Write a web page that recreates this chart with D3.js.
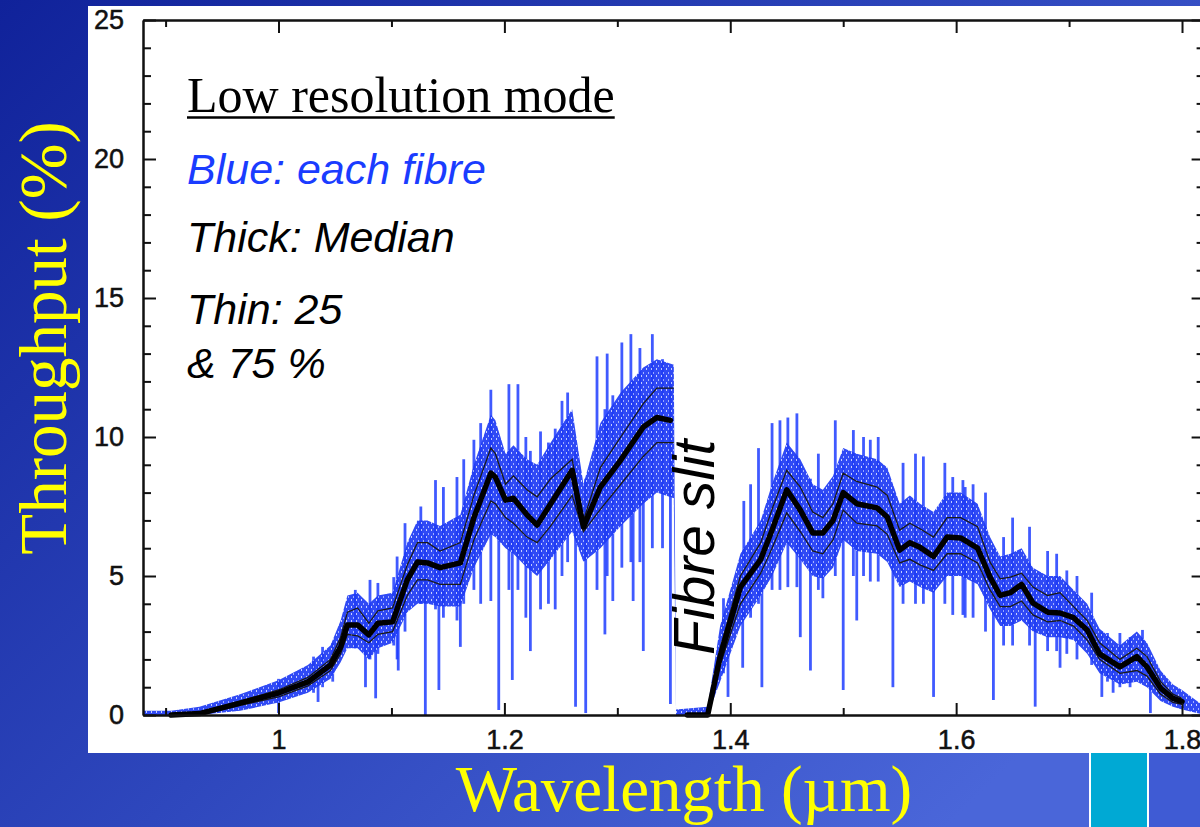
<!DOCTYPE html>
<html>
<head>
<meta charset="utf-8">
<title>Throughput - low resolution mode</title>
<script src="https://d3js.org/d3.v7.min.js"></script>
<style>
  body { margin: 0; background: #1d33aa; }
  svg { display: block; }
</style>
</head>
<body>
<div id="chart"></div>
<script>
// ---- data (wavelength in um, throughput in %) ----

// thick line: median of all fibres (null = break for the fibre slit)
const median = [
  [0.905, 0], [0.930, 0.05], [0.966, 0.43], [1.000, 0.79], [1.026, 1.19], [1.046, 1.8],
  [1.055, 2.45], [1.061, 3.24], [1.070, 3.24], [1.080, 2.88], [1.088, 3.3], [1.101, 3.35],
  [1.114, 4.86], [1.123, 5.5], [1.132, 5.47], [1.143, 5.3], [1.161, 5.47], [1.173, 7.1],
  [1.188, 8.7], [1.192, 8.56], [1.201, 7.73], [1.208, 7.8], [1.220, 7.2], [1.229, 6.83],
  [1.241, 7.6], [1.260, 8.8], [1.270, 6.76], [1.285, 8.2], [1.303, 9.17], [1.323, 10.36],
  [1.335, 10.7], [1.347, 10.6],
  [1.356, null],
  [1.362, 0], [1.380, 0], [1.391, 2.1], [1.409, 4.6], [1.427, 5.6], [1.437, 6.65],
  [1.450, 8.1], [1.462, 7.37], [1.473, 6.55], [1.482, 6.55], [1.491, 7.0], [1.500, 8.0],
  [1.512, 7.6], [1.530, 7.45], [1.539, 7.12], [1.550, 5.93], [1.559, 6.2], [1.568, 6.03],
  [1.580, 5.7], [1.592, 6.4], [1.604, 6.37], [1.619, 6.0], [1.630, 4.96], [1.639, 4.3],
  [1.648, 4.4], [1.658, 4.7], [1.668, 4.03], [1.681, 3.7], [1.692, 3.67], [1.704, 3.5],
  [1.716, 3.06], [1.727, 2.2], [1.745, 1.73], [1.760, 2.1], [1.769, 1.73], [1.781, 0.97],
  [1.792, 0.6], [1.800, 0.48]
];

// thin lines: 75 % and 25 % quantiles
const p75 = [
  [0.930, 0.1], [0.966, 0.5], [1.000, 0.9], [1.026, 1.35], [1.046, 2.0], [1.055, 2.8],
  [1.061, 3.7], [1.070, 3.85], [1.080, 3.3], [1.088, 3.75], [1.101, 3.85], [1.114, 5.4],
  [1.123, 6.2], [1.132, 6.2], [1.143, 5.9], [1.161, 6.2], [1.173, 7.9], [1.188, 9.6],
  [1.192, 9.4], [1.201, 8.3], [1.208, 8.6], [1.220, 8.1], [1.229, 7.85], [1.241, 8.5],
  [1.260, 9.2], [1.270, 7.0], [1.285, 8.9], [1.303, 10.0], [1.323, 11.2], [1.335, 11.76],
  [1.350, 11.76],
  [1.360, null],
  [1.385, 1.2], [1.391, 2.4], [1.409, 5.0], [1.427, 6.2], [1.437, 7.4], [1.450, 8.8],
  [1.462, 8.2], [1.473, 7.3], [1.482, 7.1], [1.491, 7.6], [1.500, 8.7], [1.512, 8.4],
  [1.530, 8.2], [1.539, 7.9], [1.550, 6.65], [1.559, 6.9], [1.568, 6.7], [1.580, 6.4],
  [1.592, 7.1], [1.604, 7.1], [1.619, 6.77], [1.630, 5.5], [1.639, 4.9], [1.648, 4.96],
  [1.658, 5.1], [1.668, 4.6], [1.681, 4.3], [1.692, 4.4], [1.704, 3.9], [1.716, 3.4],
  [1.727, 2.6], [1.745, 2.0], [1.760, 2.4], [1.769, 2.1], [1.781, 1.2], [1.792, 0.75],
  [1.800, 0.6]
];

const p25 = [
  [0.930, 0], [0.966, 0.35], [1.000, 0.65], [1.026, 1.05], [1.046, 1.6], [1.055, 2.2],
  [1.061, 2.9], [1.070, 2.85], [1.080, 2.6], [1.088, 2.9], [1.101, 3.0], [1.114, 4.3],
  [1.123, 4.86], [1.132, 4.86], [1.143, 4.7], [1.161, 4.7], [1.173, 6.3], [1.188, 7.7],
  [1.192, 7.6], [1.201, 7.1], [1.208, 6.9], [1.220, 6.4], [1.229, 6.2], [1.241, 6.8],
  [1.260, 7.9], [1.270, 6.6], [1.285, 7.4], [1.303, 8.3], [1.323, 9.3], [1.335, 9.8],
  [1.350, 9.8],
  [1.360, null],
  [1.385, 0.8], [1.391, 1.8], [1.409, 4.0], [1.427, 5.1], [1.437, 6.0], [1.450, 7.27],
  [1.462, 6.6], [1.473, 5.9], [1.482, 5.8], [1.491, 6.3], [1.500, 7.37], [1.512, 6.9],
  [1.530, 6.8], [1.539, 6.5], [1.550, 5.47], [1.559, 5.6], [1.568, 5.4], [1.580, 5.2],
  [1.592, 5.8], [1.604, 5.8], [1.619, 5.47], [1.630, 4.5], [1.639, 3.9], [1.648, 3.9],
  [1.658, 4.1], [1.668, 3.6], [1.681, 3.35], [1.692, 3.4], [1.704, 3.2], [1.716, 2.7],
  [1.727, 2.0], [1.745, 1.5], [1.760, 1.6], [1.769, 1.4], [1.781, 0.75], [1.792, 0.45],
  [1.800, 0.38]
];

// dense part of the blue cloud: [wavelength, low, high]
const fibreBand = [
  [0.880, 0, 0.15], [0.905, 0, 0.15], [0.930, 0, 0.3], [0.966, 0.15, 0.75], [1.000, 0.45, 1.25],
  [1.026, 0.8, 1.8], [1.046, 1.3, 2.5], [1.055, 1.9, 3.4], [1.061, 2.4, 4.3], [1.070, 2.4, 4.4],
  [1.080, 2.0, 4.0], [1.088, 2.4, 4.3], [1.101, 2.6, 4.4], [1.114, 3.7, 6.2], [1.123, 4.0, 7.0],
  [1.132, 4.0, 7.0], [1.143, 3.9, 6.8], [1.161, 3.9, 7.2], [1.173, 5.3, 9.0], [1.188, 6.5, 10.8],
  [1.192, 6.4, 10.6], [1.201, 6.0, 9.4], [1.208, 5.8, 9.7], [1.220, 5.3, 9.2], [1.229, 5.0, 9.0],
  [1.241, 5.6, 9.8], [1.260, 6.6, 11.0], [1.270, 5.5, 8.3], [1.285, 6.0, 10.5], [1.303, 6.8, 11.6],
  [1.323, 7.6, 12.5], [1.335, 8.0, 12.8], [1.350, 7.8, 12.6], [1.352, 0, 0.2], [1.380, 0, 0.3],
  [1.391, 1.2, 3.2], [1.409, 3.2, 5.8], [1.427, 4.3, 7.0], [1.437, 5.0, 8.3], [1.450, 6.2, 9.8],
  [1.462, 5.6, 9.2], [1.473, 5.0, 8.3], [1.482, 4.9, 8.1], [1.491, 5.3, 8.6], [1.500, 6.3, 9.6],
  [1.512, 5.9, 9.4], [1.530, 5.8, 9.2], [1.539, 5.5, 8.9], [1.550, 4.6, 7.6], [1.559, 4.8, 7.9],
  [1.568, 4.6, 7.6], [1.580, 4.4, 7.3], [1.592, 5.0, 8.0], [1.604, 5.0, 8.0], [1.619, 4.7, 7.6],
  [1.630, 3.8, 6.4], [1.639, 3.2, 5.7], [1.648, 3.2, 5.8], [1.658, 3.4, 6.0], [1.668, 3.0, 5.3],
  [1.681, 2.8, 5.0], [1.692, 2.8, 5.0], [1.704, 2.7, 4.5], [1.716, 2.2, 4.0], [1.727, 1.5, 3.1],
  [1.745, 1.1, 2.5], [1.760, 1.2, 3.0], [1.769, 1.0, 2.6], [1.781, 0.5, 1.6], [1.792, 0.3, 1.1],
  [1.800, 0.2, 0.9], [1.820, 0, 0.3]
];

// vertical streaks of the individual fibres: [wavelength, low, high]
const streaks = [
  [1.000, 0.07, 1.3], [1.031, 0.8, 2.1], [1.035, 0.47, 1.8], [1.039, 1.0, 2.45], [1.048, 1.2, 2.6],
  [1.068, 2.4, 4.5], [1.077, 1.0, 3.8], [1.081, 2.0, 4.86], [1.086, 0.6, 3.6], [1.088, 2.2, 4.75],
  [1.102, 2.5, 4.96], [1.105, 2.0, 5.7], [1.106, 1.6, 3.5], [1.112, 3.0, 6.9],
  [1.126, 4.0, 7.5], [1.130, 0.0, 6.5], [1.139, 3.8, 8.45], [1.142, 0.9, 6.0], [1.146, 3.5, 8.2],
  [1.158, 3.4, 8.56], [1.161, 2.45, 7.0], [1.164, 4.0, 9.2], [1.173, 4.5, 9.9], [1.179, 4.0, 10.5],
  [1.188, 4.1, 11.7], [1.195, 0.18, 9.0], [1.204, 4.5, 11.9], [1.207, 1.26, 8.0], [1.212, 4.5, 11.9],
  [1.219, 3.5, 10.0], [1.223, 2.3, 9.5], [1.232, 3.8, 10.2], [1.239, 4.0, 9.8], [1.245, 3.8, 10.3],
  [1.251, 5.0, 11.3], [1.256, 5.5, 11.6], [1.263, 0.3, 9.5], [1.272, 0.07, 8.5], [1.282, 4.5, 12.9],
  [1.289, 2.9, 11.0], [1.291, 5.0, 13.0], [1.296, 4.1, 11.5], [1.304, 5.3, 13.4], [1.312, 5.5, 13.7],
  [1.314, 4.1, 12.0], [1.320, 5.5, 13.2], [1.323, 2.3, 11.5], [1.331, 6.0, 13.7], [1.340, 6.0, 12.8],
  [1.347, 0.4, 12.0],
  [1.394, 1.5, 4.2], [1.398, 0.65, 3.0], [1.411, 1.7, 5.0], [1.412, 3.5, 7.7], [1.418, 3.5, 8.3],
  [1.425, 4.0, 9.6], [1.428, 1.0, 7.0], [1.437, 4.5, 10.5], [1.444, 4.5, 10.6], [1.451, 4.6, 10.7],
  [1.459, 4.6, 10.85], [1.462, 2.8, 9.0], [1.471, 1.6, 8.5], [1.478, 4.5, 9.4], [1.482, 4.2, 8.0],
  [1.493, 5.0, 10.6], [1.500, 0.9, 9.0], [1.509, 5.0, 10.25], [1.512, 3.4, 9.0], [1.518, 5.0, 10.0],
  [1.524, 4.8, 9.9], [1.531, 4.8, 10.0], [1.544, 1.0, 8.0], [1.553, 4.0, 9.07], [1.564, 4.0, 9.4],
  [1.571, 4.0, 9.3], [1.580, 0.65, 7.0], [1.590, 4.0, 9.07], [1.597, 3.6, 8.56], [1.606, 3.6, 8.45],
  [1.608, 3.5, 8.2], [1.615, 3.5, 8.3], [1.626, 3.0, 8.0], [1.633, 0.54, 6.0], [1.642, 2.5, 6.4],
  [1.650, 2.5, 7.1], [1.665, 2.5, 6.77], [1.670, 0.3, 5.0], [1.681, 2.3, 5.9], [1.689, 2.3, 5.8],
  [1.692, 1.7, 4.5], [1.698, 2.2, 5.2], [1.707, 2.0, 5.0], [1.720, 1.8, 4.4], [1.729, 0.65, 3.0],
  [1.734, 1.2, 2.95], [1.739, 0.8, 2.5], [1.745, 1.0, 2.95], [1.754, 1.0, 2.8], [1.765, 1.2, 3.06],
  [1.772, 0.07, 2.0]
];

const xMajor = [1, 1.2, 1.4, 1.6, 1.8];
const xMinor = [0.9, 1.1, 1.3, 1.5, 1.7];
const yMajor = [0, 5, 10, 15, 20, 25];
const yMinor = d3.range(1, 25).filter(v => v % 5 !== 0);

// ---- layout ----
const W = 1200, H = 827;
const svg = d3.select("#chart").append("svg")
    .attr("width", W)
    .attr("height", H);

const defs = svg.append("defs");
const bg = defs.append("linearGradient")
    .attr("id", "bg")
    .attr("x1", "0").attr("y1", "0")
    .attr("x2", "1").attr("y2", "0.7");
bg.append("stop").attr("offset", "0").attr("stop-color", "#10229a");
bg.append("stop").attr("offset", "0.55").attr("stop-color", "#2e47bd");
bg.append("stop").attr("offset", "1").attr("stop-color", "#4a66d9");

// speckled texture for the cloud of fibre points
const pat = defs.append("pattern")
    .attr("id", "speckle")
    .attr("patternUnits", "userSpaceOnUse")
    .attr("width", 5).attr("height", 7);
pat.append("rect").attr("width", 5).attr("height", 7).attr("fill", "#1e3bf4");
pat.append("rect").attr("x", 3).attr("y", 1).attr("width", 1).attr("height", 2).attr("fill", "#9aa8ff");
pat.append("rect").attr("x", 1).attr("y", 4).attr("width", 1).attr("height", 2).attr("fill", "#c4ccff");

svg.append("rect").attr("width", W).attr("height", H).attr("fill", "url(#bg)");

// decoration squares bottom right
svg.append("rect").attr("x", 1089).attr("y", 753).attr("width", 60).attr("height", 74).attr("fill", "#ffffff");
svg.append("rect").attr("x", 1091).attr("y", 753).attr("width", 56).attr("height", 74).attr("fill", "#00a9d4");
svg.append("rect").attr("x", 1149).attr("y", 753).attr("width", 51).attr("height", 74).attr("fill", "#3f5bd4");

// white figure panel
svg.append("rect").attr("x", 88).attr("y", 6).attr("width", W - 88).attr("height", 747).attr("fill", "#ffffff");

let x = d3.scaleLinear().domain([0.88, 1.82]).range([143, 1204.6]);
let y = d3.scaleLinear().domain([0, 25]).range([715, 20]);

const plot = svg.append("g");

// blue cloud
plot.selectAll("line.streak")
    .data(streaks)
    .enter()
    .append("line")
    .attr("class", "streak")
    .attr("x1", d => x(d[0])).attr("x2", d => x(d[0]))
    .attr("y1", d => y(d[1])).attr("y2", d => y(d[2]))
    .attr("stroke", "#1f3dff")
    .attr("stroke-width", 2.8)
    .attr("stroke-opacity", 0.85);

plot.append("path")
    .datum(fibreBand)
    .attr("d", d3.area().x(d => x(d[0])).y0(d => y(d[1])).y1(d => y(d[2])))
    .attr("fill", "url(#speckle)")
    .attr("fill-opacity", 0.92);

// quantile lines
const line = d3.line()
    .defined(d => d[1] !== null)
    .x(d => x(d[0]))
    .y(d => y(d[1]));

[p75, p25].forEach(q => {
    plot.append("path")
        .datum(q)
        .attr("d", line)
        .attr("fill", "none")
        .attr("stroke", "#1a1a1a")
        .attr("stroke-width", 1.3);
});

plot.append("path")
    .datum(median)
    .attr("d", line)
    .attr("fill", "none")
    .attr("stroke", "#000")
    .attr("stroke-width", 5.5)
    .attr("stroke-linejoin", "round")
    .attr("stroke-linecap", "round");

// ---- axes (ticks point inwards) ----
const tickFont = "'Liberation Sans', Arial, sans-serif";

function styleAxis(g) {
    g.select(".domain").attr("stroke", "#111").attr("stroke-width", 2);
    g.selectAll(".tick line").attr("stroke", "#111").attr("stroke-width", 2);
    g.selectAll("text")
        .attr("font-family", tickFont).attr("font-size", 27)
        .attr("fill", "#111").attr("stroke", "#111").attr("stroke-width", 0.5);
}

svg.append("g")
    .attr("transform", "translate(0,715)")
    .call(d3.axisBottom(x).tickValues(xMajor).tickSizeInner(-12).tickSizeOuter(0)
        .tickPadding(15).tickFormat(d3.format("")))
    .call(styleAxis);
svg.append("g")
    .attr("transform", "translate(0,715)")
    .call(d3.axisBottom(x).tickValues(xMinor).tickSizeInner(-7).tickSizeOuter(0).tickFormat(""))
    .call(styleAxis);

svg.append("g")
    .attr("transform", "translate(0,20)")
    .call(d3.axisTop(x).tickValues(xMajor).tickSizeInner(-13).tickSizeOuter(0).tickFormat(""))
    .call(styleAxis);
svg.append("g")
    .attr("transform", "translate(0,20)")
    .call(d3.axisTop(x).tickValues(xMinor).tickSizeInner(-7).tickSizeOuter(0).tickFormat(""))
    .call(styleAxis);

svg.append("g")
    .attr("transform", "translate(143,0)")
    .call(d3.axisLeft(y).tickValues(yMajor).tickSizeInner(-13).tickSizeOuter(0).tickPadding(19))
    .call(styleAxis);
svg.append("g")
    .attr("transform", "translate(143,0)")
    .call(d3.axisLeft(y).tickValues(yMinor).tickSizeInner(-8).tickSizeOuter(0).tickFormat(""))
    .call(styleAxis);

svg.append("g")
    .attr("transform", "translate(1204.6,0)")
    .call(d3.axisRight(y).tickValues(yMajor).tickSizeInner(-13).tickSizeOuter(0).tickFormat(""))
    .call(styleAxis);
svg.append("g")
    .attr("transform", "translate(1204.6,0)")
    .call(d3.axisRight(y).tickValues(yMinor).tickSizeInner(-8).tickSizeOuter(0).tickFormat(""))
    .call(styleAxis);

// ---- annotations ----
const serif = "'Liberation Serif', 'Times New Roman', serif";
const sans = "'Liberation Sans', Arial, sans-serif";

const title = svg.append("text")
    .attr("x", 187).attr("y", 112)
    .attr("font-family", serif).attr("font-size", 50)
    .attr("fill", "#000")
    .text("Low resolution mode");
const tw = title.node().getComputedTextLength();
svg.append("line")
    .attr("x1", 187).attr("x2", 187 + tw)
    .attr("y1", 117.5).attr("y2", 117.5)
    .attr("stroke", "#000").attr("stroke-width", 2.5);

const notes = [
    {t: "Blue: each fibre", y: 184, c: "#1a3cff"},
    {t: "Thick: Median", y: 252, c: "#000"},
    {t: "Thin: 25", y: 324, c: "#000"},
    {t: "& 75 %", y: 378, c: "#000"}
];
svg.selectAll("text.note")
    .data(notes)
    .enter()
    .append("text")
    .attr("class", "note")
    .attr("x", 187).attr("y", d => d.y)
    .attr("font-family", sans).attr("font-size", 43)
    .attr("font-style", "italic")
    .attr("fill", d => d.c)
    .text(d => d.t);

svg.append("text")
    .attr("transform", "translate(714,655) rotate(-90)")
    .attr("font-family", sans).attr("font-size", 57)
    .attr("font-style", "italic")
    .attr("fill", "#000")
    .text("Fibre slit");

// axis titles in yellow on the slide background
svg.append("text")
    .attr("transform", "translate(66,338) rotate(-90)")
    .attr("text-anchor", "middle")
    .attr("font-family", serif).attr("font-size", 67)
    .attr("fill", "#ffff00")
    .text("Throughput (%)");

svg.append("text")
    .attr("x", 684).attr("y", 811)
    .attr("text-anchor", "middle")
    .attr("font-family", serif).attr("font-size", 65)
    .attr("fill", "#ffff00")
    .text("Wavelength (µm)");
</script>
</body>
</html>
